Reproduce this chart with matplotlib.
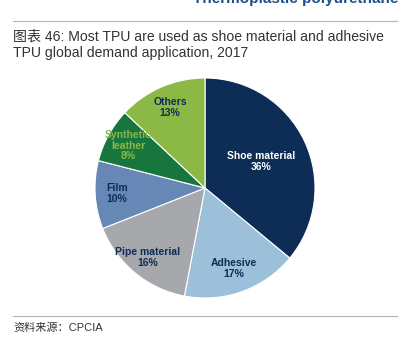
import numpy as np
import matplotlib
matplotlib.use('Agg')
import matplotlib.pyplot as plt
from matplotlib.lines import Line2D

# Data
categories = ['Shoe material', 'Adhesive', 'Pipe material', 'Film', 'Synthetic\nleather', 'Others']
shares = [36, 17, 16, 10, 8, 13]
colors = ['#0e2d56', '#9cbfda', '#a6a8ab', '#6787b7', '#17763e', '#8cb845']
label_colors = ['white', '#0e2d56', '#0e2d56', '#0e2d56', '#8cb845', '#0e2d56']
label_dist = [0.56, 0.78, 0.82, 0.80, 0.80, 0.80]

title_lines = ['图表 46: Most TPU are used as shoe material and adhesive',
               'TPU global demand application, 2017']
source = '资料来源：CPCIA'
header = 'Thermoplastic polyurethane'

W, H = 410, 342
fig = plt.figure(figsize=(W / 100, H / 100), dpi=100)
fonts = ['Liberation Sans', 'Noto Sans CJK SC', 'DejaVu Sans']

def px(x, y):
    """pixel (from top-left) to figure fraction"""
    return x / W, 1 - y / H

# header (cut off at the top edge like in the source page)
fig.text(*px(398, 3), header, ha='right', va='baseline', fontsize=11,
         fontweight='bold', color='#1f4e8c', family=fonts)

# rules
for y in (21, 316):
    fig.add_artist(Line2D([13 / W, 397 / W], [1 - y / H, 1 - y / H],
                          color='#b4b4b4', lw=0.8))

fig.text(*px(13, 37), title_lines[0], ha='left', va='center', fontsize=10.1,
         color='#333333', family=fonts)
fig.text(*px(13, 53), title_lines[1], ha='left', va='center', fontsize=10.1,
         color='#333333', family=fonts)
fig.text(*px(13, 328), source, ha='left', va='center', fontsize=8,
         color='#333333', family=fonts)

# pie
cx, cy, r = 205, 188, 110
ax = fig.add_axes([(cx - r) / W, (H - cy - r) / H, 2 * r / W, 2 * r / H])
wedges, _ = ax.pie(shares, colors=colors, startangle=90, counterclock=False,
                   radius=1, wedgeprops=dict(edgecolor='white', linewidth=0.8))
ax.set_xlim(-1, 1)
ax.set_ylim(-1, 1)
ax.axis('off')

for w, name, val, d, c in zip(wedges, categories, shares, label_dist, label_colors):
    ang = np.deg2rad((w.theta1 + w.theta2) / 2)
    ax.text(d * np.cos(ang), d * np.sin(ang), f'{name}\n{val}%', ha='center',
            va='center', fontsize=7.5, fontweight='bold', color=c,
            family=fonts, linespacing=1.1)

fig.savefig('out.png', dpi=100)
